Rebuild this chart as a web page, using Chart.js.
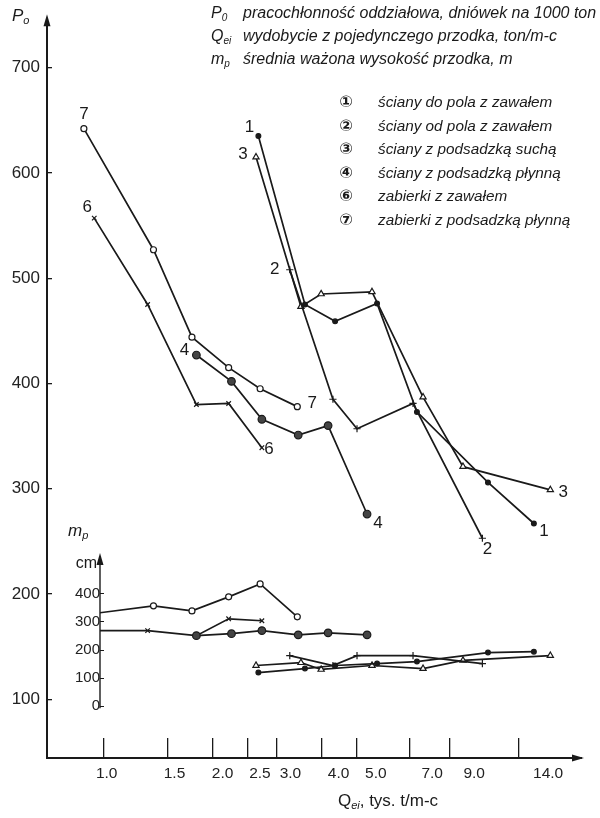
<!DOCTYPE html>
<html>
<head>
<meta charset="utf-8">
<script src="https://cdn.jsdelivr.net/npm/chart.js@4"></script>
<style>
  html, body { margin: 0; padding: 0; background: #fff; }
  #wrap { width: 600px; height: 818px; position: relative; }
</style>
</head>
<body>
<div id="wrap"><canvas id="chart"></canvas></div>
<script>
const xTicks = [1.0, 1.5, 2.0, 2.5, 3.0, 4.0, 5.0, 7.0, 9.0, 14.0];
const yTicks = [100, 200, 300, 400, 500, 600, 700];
const mTicks = [0, 100, 200, 300, 400];

// Qei (tys. t/m-c), P0 (dniówek na 1000 ton), mp (cm) for each group
const q1 = [2.67, 3.59, 4.35, 5.68, 7.32, 11.5, 15.4];
const p1 = [635, 475, 459, 476, 373, 306, 267];
const m1 = [120, 134, 145, 152, 159, 191, 194];

const q2 = [3.26, 4.29, 5.00, 7.14, 11.1];
const p2 = [508, 385, 357, 381, 253];
const m2 = [180, 145, 180, 180, 152];

const q3 = [2.63, 3.50, 3.98, 5.50, 7.61, 9.81, 17.1];
const p3 = [615, 473, 485, 487, 387, 321, 299];
const m3 = [145, 155, 131, 145, 134, 163, 180];

const q4 = [1.80, 2.25, 2.73, 3.44, 4.16, 5.33];
const p4 = [427, 402, 366, 351, 360, 276];
const m4 = [251, 258, 269, 254, 261, 254];

const q6 = [0.94, 1.32, 1.80, 2.21, 2.73];
const p6 = [557, 475, 380, 381, 339];
const m6 = [269, 269, 251, 311, 304];

const q7 = [0.88, 1.37, 1.75, 2.21, 2.70, 3.42];
const p7 = [642, 527, 444, 415, 395, 378];
const m7 = [325, 357, 339, 389, 435, 318];

const seriesNames = ['1', '2', '3', '4', '6', '7'];
const legendMarks = ['\u2460', '\u2461', '\u2462', '\u2463', '\u2465', '\u2466'];
const legendTexts = [
  'ściany do pola z zawałem',
  'ściany od pola z zawałem',
  'ściany z podsadzką suchą',
  'ściany z podsadzką płynną',
  'zabierki z zawałem',
  'zabierki z podsadzką płynną'
];

const ink = '#1a1a1a';
const sans = "'Liberation Sans', Arial, sans-serif";
const mAxisAt = 0.975;   // Qei where the small cm axis stands

const groups = [
  { q: q1, p: p1, m: m1, style: 'circle', r: 2.4, fill: ink },
  { q: q2, p: p2, m: m2, style: 'cross', r: 3.6, fill: ink },
  { q: q3, p: p3, m: m3, style: 'triangle', r: 3.6, fill: '#fff' },
  { q: q4, p: p4, m: m4, style: 'circle', r: 3.8, fill: '#444' },
  { q: q6, p: p6, m: m6, style: 'crossRot', r: 3.2, fill: ink },
  { q: q7, p: p7, m: m7, style: 'circle', r: 3, fill: '#fff' }
];

function pts(xs, ys) {
  return xs.map((x, i) => ({ x: x, y: ys[i] }));
}

function makeSet(g, vals, axis) {
  return {
    data: pts(g.q, vals),
    yAxisID: axis,
    borderColor: ink,
    borderWidth: 1.7,
    pointStyle: g.style,
    pointRadius: g.r,
    pointBackgroundColor: g.fill,
    pointBorderColor: ink,
    pointBorderWidth: 1.2,
    tension: 0
  };
}

const datasets = groups.map(g => makeSet(g, g.p, 'y'))
  .concat(groups.map(g => makeSet(g, g.m, 'm')));
// the mp lines of the "zabierki" start behind the small cm axis
datasets[10].clip = { left: -53, right: 0, top: 0, bottom: 0 };
datasets[11].clip = { left: -53, right: 0, top: 0, bottom: 0 };

// label offsets next to the first and last point of each P0 line
const startOffsets = [[-9, -9], [-15, 0], [-13, -3], [-12, -5], [-7, -11], [0, -14]];
const endOffsets = [[10, 8], [5, 11], [13, 2], [11, 9], [7, 2], [15, -3]];

function runText(ctx, x, y, parts) {
  parts.forEach(p => {
    ctx.font = p[1];
    ctx.fillText(p[0], x, y + (p[2] || 0));
    x += ctx.measureText(p[0]).width;
  });
  return x;
}

function textWidth(ctx, parts) {
  let w = 0;
  parts.forEach(p => { ctx.font = p[1]; w += ctx.measureText(p[0]).width; });
  return w;
}

function arrowHead(ctx, x, y, dir) {
  ctx.beginPath();
  if (dir === 'up') {
    ctx.moveTo(x, y); ctx.lineTo(x - 3.5, y + 12); ctx.lineTo(x + 3.5, y + 12);
  } else {
    ctx.moveTo(x, y); ctx.lineTo(x - 12, y - 3.5); ctx.lineTo(x - 12, y + 3.5);
  }
  ctx.closePath();
  ctx.fill();
}

const decorations = {
  id: 'decorations',
  afterDraw(chart) {
    const ctx = chart.ctx;
    const area = chart.chartArea;
    const sx = chart.scales.x, sm = chart.scales.m;
    ctx.save();
    ctx.fillStyle = ink;
    ctx.strokeStyle = ink;

    // arrows of the main axes
    ctx.fillRect(area.left - 1, area.top - 4, 2, 6);
    arrowHead(ctx, area.left, area.top - 8, 'up');
    ctx.fillRect(area.right - 2, area.bottom - 1, 6, 2);
    arrowHead(ctx, area.right + 6, area.bottom, 'right');

    // small cm axis of mp
    const ax = sx.getPixelForValue(mAxisAt);
    ctx.lineWidth = 1.4;
    ctx.beginPath();
    ctx.moveTo(ax, sm.getPixelForValue(0) + 2);
    ctx.lineTo(ax, sm.getPixelForValue(520));
    ctx.stroke();
    arrowHead(ctx, ax, sm.getPixelForValue(545), 'up');

    ctx.textAlign = 'left';
    ctx.textBaseline = 'alphabetic';
    runText(ctx, 12, 21, [['P', 'italic 17px ' + sans], ['o', 'italic 11px ' + sans, 3]]);
    runText(ctx, 68, 536, [['m', 'italic 17px ' + sans], ['p', 'italic 11px ' + sans, 3]]);
    ctx.textAlign = 'right';
    ctx.font = '16px ' + sans;
    ctx.fillText('cm', ax - 3, 568);
    ctx.textAlign = 'left';
    const title = [['Q', '17px ' + sans], ['ei', 'italic 11px ' + sans, 3], [', tys. t/m-c', '17px ' + sans]];
    runText(ctx, 388 - textWidth(ctx, title) / 2, 806, title);

    // description of symbols
    const it = 'italic 16px ' + sans;
    const itSub = 'italic 10px ' + sans;
    runText(ctx, 211, 18, [['P', it], ['0', itSub, 3]]);
    runText(ctx, 211, 41, [['Q', it], ['ei', itSub, 3]]);
    runText(ctx, 211, 64, [['m', it], ['p', itSub, 3]]);
    ctx.font = it;
    ctx.fillText('pracochłonność oddziałowa, dniówek na 1000 ton', 243, 18);
    ctx.fillText('wydobycie z pojedynczego przodka, ton/m-c', 243, 41);
    ctx.fillText('średnia ważona wysokość przodka, m', 243, 64);

    // legend of groups
    legendTexts.forEach((t, i) => {
      const y = 107 + i * 23.6;
      ctx.textAlign = 'center';
      ctx.font = "bold 16px 'DejaVu Sans', sans-serif";
      ctx.fillText(legendMarks[i], 346, y);
      ctx.textAlign = 'left';
      ctx.font = 'italic 15.3px ' + sans;
      ctx.fillText(t, 378, y);
    });

    // numbers at the ends of the P0 lines
    ctx.font = '17px ' + sans;
    ctx.textAlign = 'center';
    ctx.textBaseline = 'middle';
    seriesNames.forEach((name, i) => {
      const pts = chart.getDatasetMeta(i).data;
      const a = pts[0], b = pts[pts.length - 1];
      ctx.fillText(name, a.x + startOffsets[i][0], a.y + startOffsets[i][1]);
      ctx.fillText(name, b.x + endOffsets[i][0], b.y + endOffsets[i][1]);
    });
    ctx.restore();
  }
};

function fixedTicks(list) {
  return scale => { scale.ticks = list.map(v => ({ value: v })); };
}

new Chart(document.getElementById('chart'), {
  type: 'line',
  data: { datasets: datasets },
  plugins: [decorations],
  options: {
    responsive: true,
    maintainAspectRatio: false,
    animation: false,
    layout: { padding: { top: 18, right: 22, bottom: 0, left: 0 } },
    plugins: { legend: { display: false }, tooltip: { enabled: false } },
    scales: {
      x: {
        type: 'logarithmic',
        position: 'bottom',
        min: 0.696,
        max: 20.39,
        afterBuildTicks: fixedTicks(xTicks),
        afterFit: s => { s.height = 0; },
        ticks: { display: false },
        grid: { drawOnChartArea: false, tickLength: -20, color: ink, lineWidth: 1.3 },
        border: { color: ink, width: 2 }
      },
      xl: {
        type: 'logarithmic',
        position: 'bottom',
        min: 0.708,
        max: 16.74,
        afterBuildTicks: fixedTicks(xTicks),
        afterFit: s => { s.height = 60; },
        ticks: {
          autoSkip: false,
          maxRotation: 0,
          padding: 6,
          color: '#222',
          font: { family: sans, size: 15.5 },
          callback: v => Number(v).toFixed(1)
        },
        grid: { display: false, drawTicks: false },
        border: { display: false }
      },
      y: {
        position: 'left',
        min: 44.3,
        max: 743.1,
        afterBuildTicks: fixedTicks(yTicks),
        afterFit: s => { s.width = 47; },
        ticks: { padding: 12, color: '#222', font: { family: sans, size: 17 } },
        grid: { drawOnChartArea: false, tickLength: -5, color: ink, lineWidth: 1.3 },
        border: { color: ink, width: 2 }
      },
      m: {
        position: { x: mAxisAt },
        min: -183.7,
        max: 2431,
        afterBuildTicks: fixedTicks(mTicks),
        ticks: { padding: 7, color: '#222', font: { family: sans, size: 15 } },
        grid: { drawOnChartArea: false, tickLength: -4, color: ink, lineWidth: 1 },
        border: { display: false }
      }
    }
  }
});
</script>
</body>
</html>
